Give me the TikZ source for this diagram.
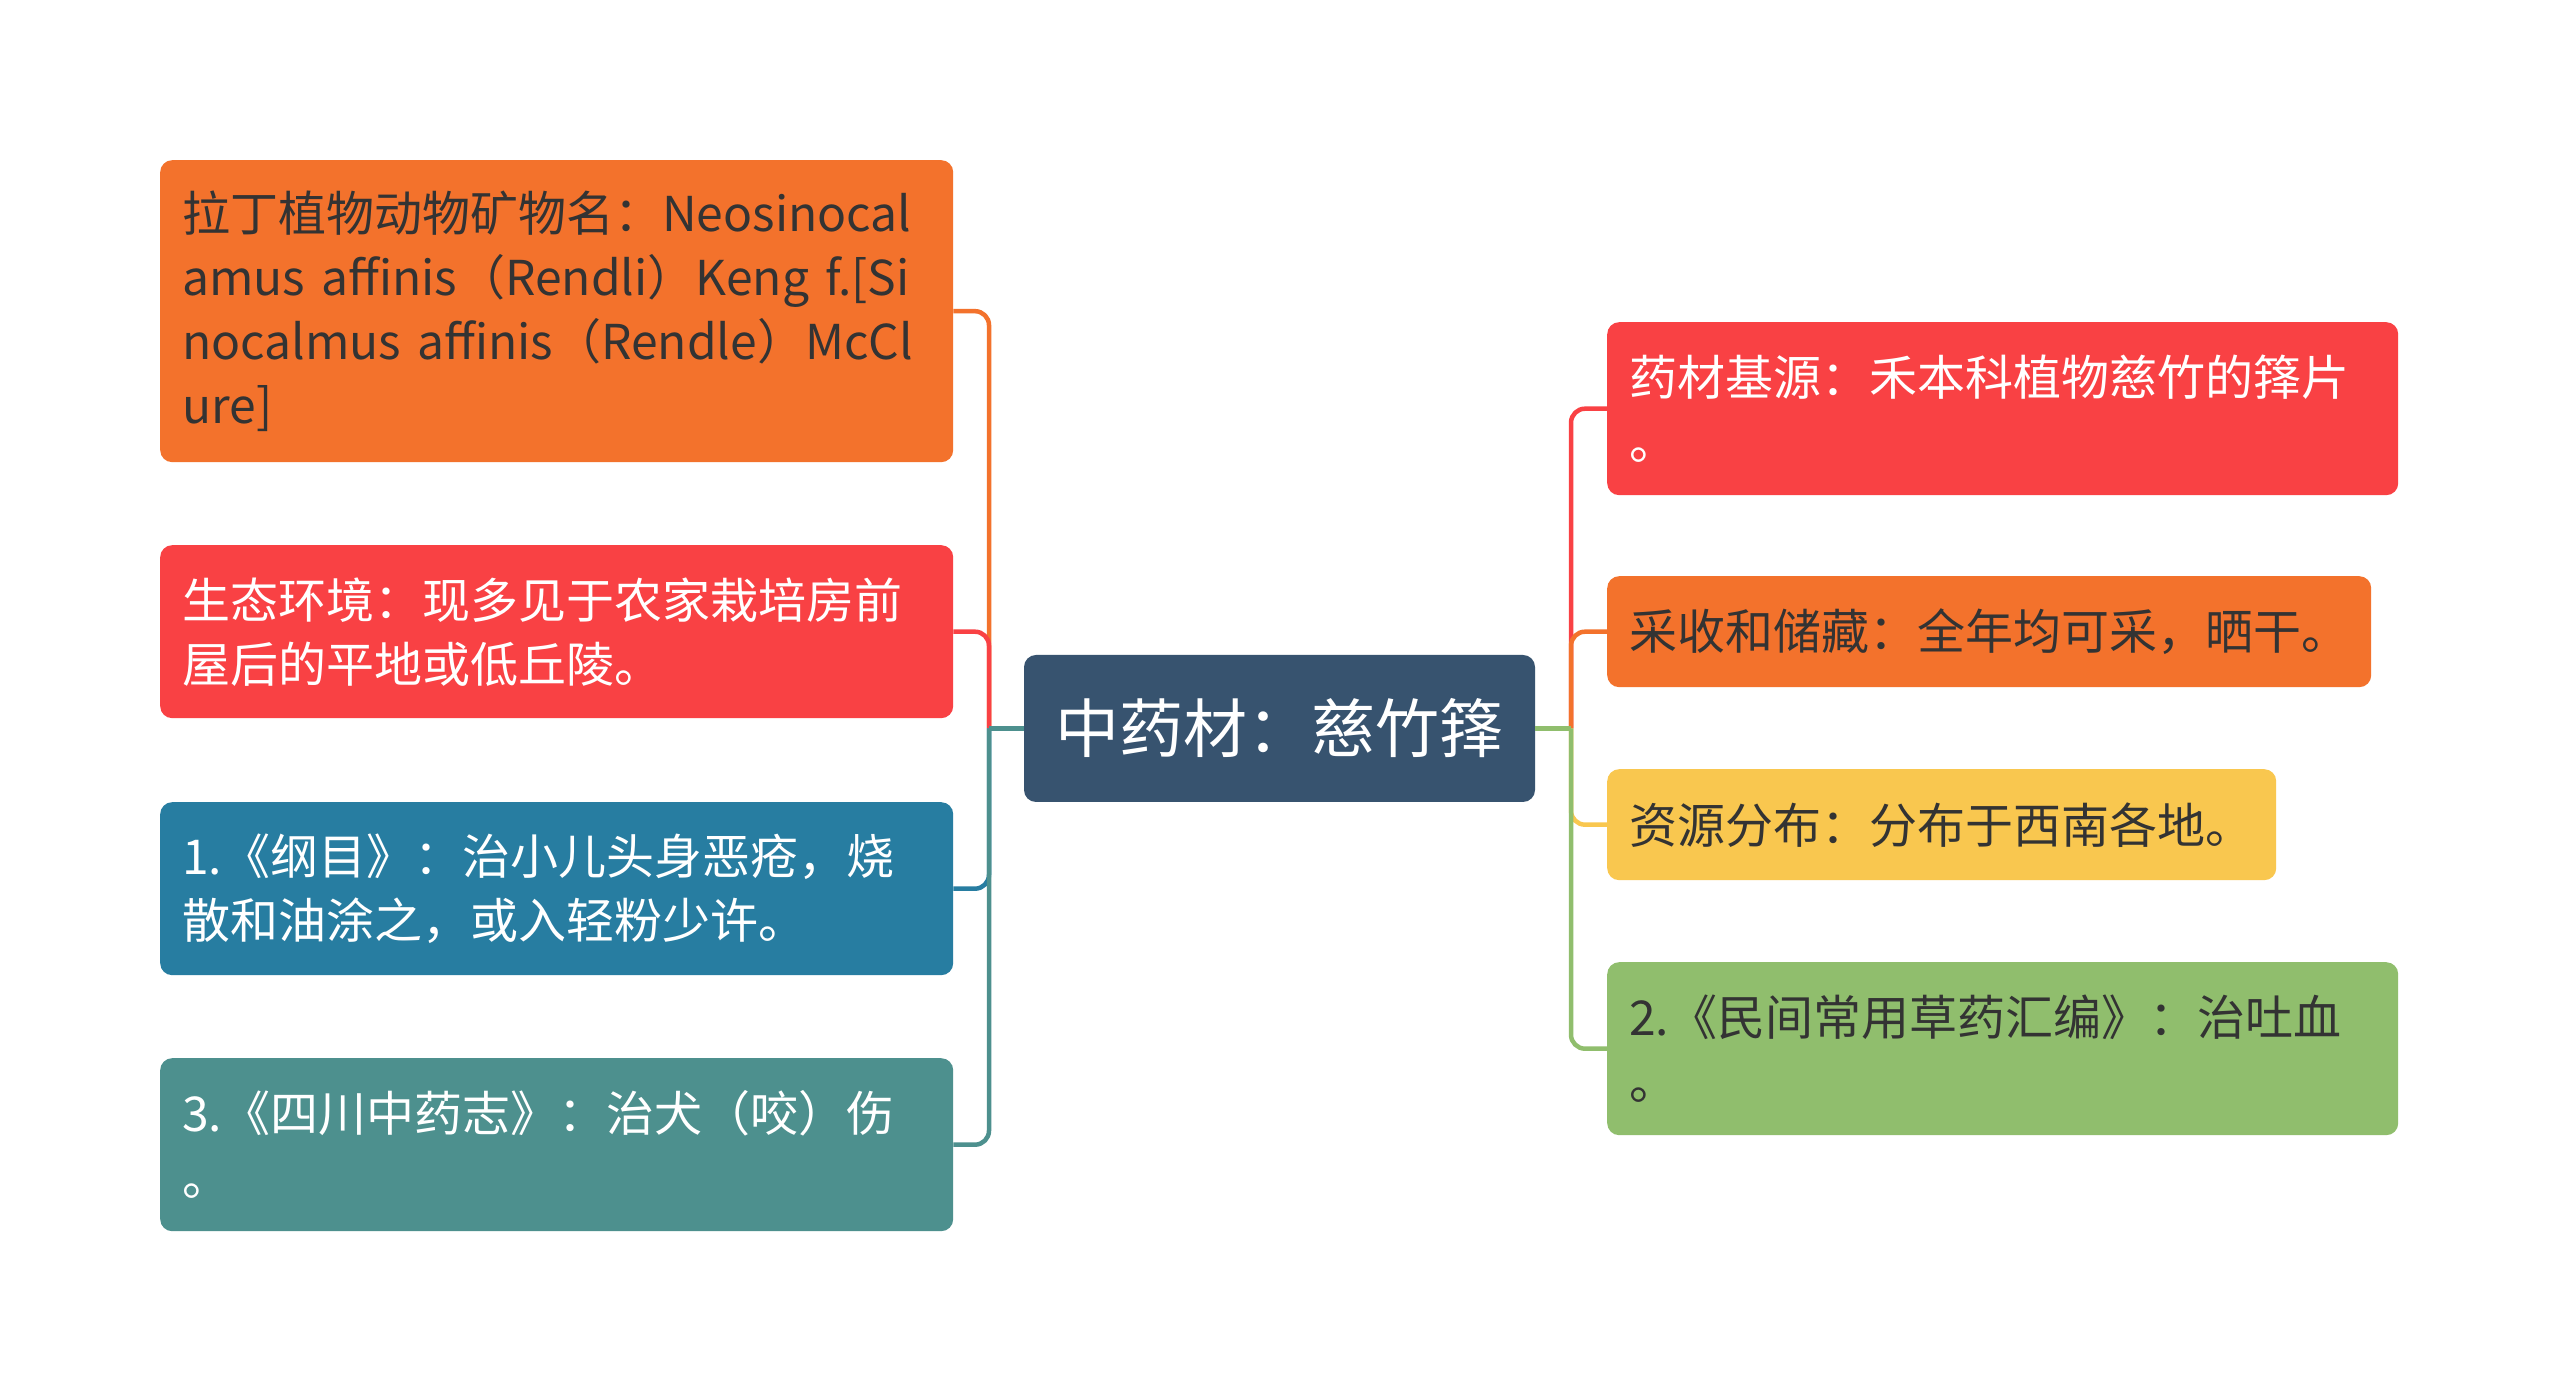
\documentclass[tikz,border=0pt]{standalone}
\usepackage{fontspec}
\setmainfont{Noto Sans CJK SC}
\usepackage{tikz}
\usetikzlibrary{arrows,shapes}
\usepackage{xcolor}

\definecolor{rootcol}{HTML}{37536F}
\definecolor{orangecol}{HTML}{F3722C}
\definecolor{redcol}{HTML}{F94144}
\definecolor{bluecol}{HTML}{277DA1}
\definecolor{tealcol}{HTML}{4D908E}
\definecolor{yellowcol}{HTML}{F9C74F}
\definecolor{greencol}{HTML}{90BE6D}
\definecolor{darktext}{HTML}{333333}

\begin{document}
\begin{tikzpicture}[line join=bevel,
    leaf/.style={anchor=north west, rounded corners=12bp, inner xsep=22bp, inner ysep=0bp,
      align=left, font=\fontsize{48bp}{64bp}\selectfont},
    branch/.style={line width=4.5bp, rounded corners=14bp}]
    %%
    \fill[white] (0bp,0bp) rectangle (2560bp,1392bp);
    \useasboundingbox (0bp,0bp) rectangle (2560bp,1392bp);
    %
    \node (root) at (1279.5bp,663.5bp) [fill=rootcol, text=white, rounded corners=12bp, minimum width=511bp, minimum height=147bp, font=\fontsize{64bp}{76bp}\selectfont] {中药材：慈竹箨};
      \node[leaf] (lat) at (160bp,1232bp) [fill=orangecol, text=darktext, text width=749bp, minimum height=302bp] {拉丁植物动物矿物名：Neosinocal\\amus affinis（Rendli）Keng f.[Si\\nocalmus affinis（Rendle）McCl\\ure]};
      \node[leaf] (env) at (160bp,847bp) [fill=redcol, text=white, text width=749bp, minimum height=173bp] {生态环境：现多见于农家栽培房前\\屋后的平地或低丘陵。};
      \node[leaf] (gm) at (160bp,590bp) [fill=bluecol, text=white, text width=749bp, minimum height=173bp] {1.《纲目》：治小儿头身恶疮，烧\\散和油涂之，或入轻粉少许。};
      \node[leaf] (sc) at (160bp,334bp) [fill=tealcol, text=white, text width=749bp, minimum height=173bp] {3.《四川中药志》：治犬（咬）伤\\。};
      \node[leaf] (src) at (1607bp,1070bp) [fill=redcol, text=white, text width=747bp, minimum height=173bp] {药材基源：禾本科植物慈竹的箨片\\。};
      \node[leaf] (harv) at (1607bp,816bp) [fill=orangecol, text=darktext, text width=720bp, minimum height=111bp] {采收和储藏：全年均可采，晒干。};
      \node[leaf] (dist) at (1607bp,623bp) [fill=yellowcol, text=darktext, text width=625bp, minimum height=111bp] {资源分布：分布于西南各地。};
      \node[leaf] (mj) at (1607bp,430bp) [fill=greencol, text=darktext, text width=747bp, minimum height=173bp] {2.《民间常用草药汇编》：治吐血\\。};
    %
      \coordinate (lj) at (989bp,663.5bp);
      \coordinate (rj) at (1571bp,663.5bp);
      \draw [branch,orangecol] (lj) -- (lj |- lat.east) -- (lat.east);
      \draw [branch,redcol] (lj) -- (lj |- env.east) -- (env.east);
      \draw [branch,bluecol] (lj) -- (lj |- gm.east) -- (gm.east);
      \draw [branch,tealcol] (lj) -- (lj |- sc.east) -- (sc.east);
      \draw [branch,tealcol] (root) -- (lj);
      \draw [branch,redcol] (rj) -- (rj |- src.west) -- (src.west);
      \draw [branch,orangecol] (rj) -- (rj |- harv.west) -- (harv.west);
      \draw [branch,yellowcol] (rj) -- (rj |- dist.west) -- (dist.west);
      \draw [branch,greencol] (rj) -- (rj |- mj.west) -- (mj.west);
      \draw [branch,greencol] (root) -- (rj);
    %
    \end{tikzpicture}
\end{document}
